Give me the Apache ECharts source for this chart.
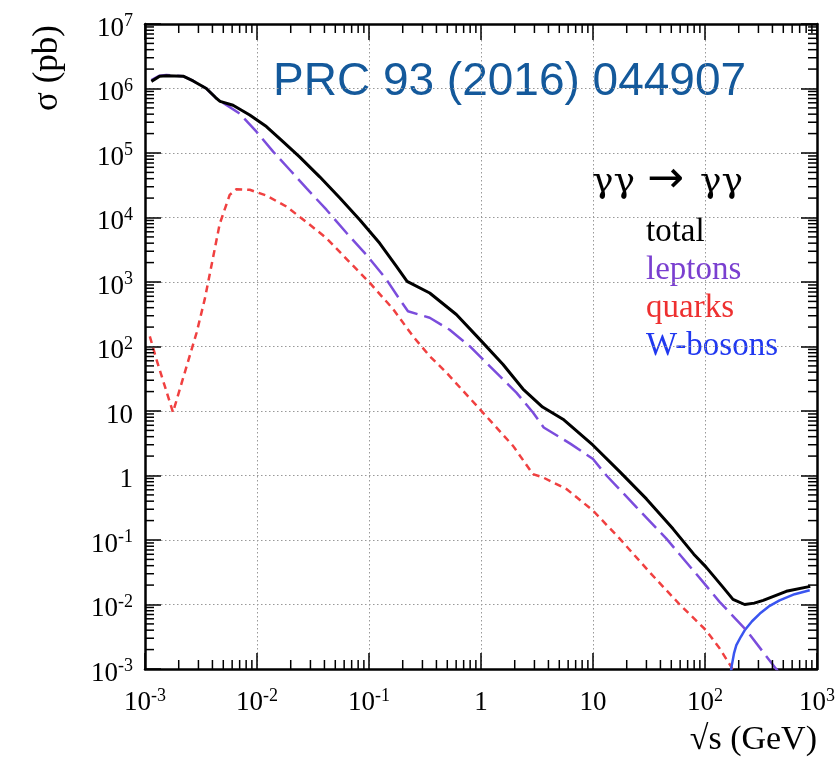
<!DOCTYPE html>
<html>
<head>
<meta charset="utf-8">
<script src="https://cdn.jsdelivr.net/npm/echarts@6/dist/echarts.min.js"></script>
<style>
  html, body { margin: 0; padding: 0; background: #fff; }
  #chart { width: 838px; height: 762px; }
</style>
</head>
<body>
<div id="chart"></div>
<script>
// gamma gamma -> gamma gamma cross sections vs sqrt(s), in pb, per contribution
const totalEnergy = [0.00114, 0.00135, 0.00155, 0.00219, 0.00269, 0.00353, 0.00427, 0.00468, 0.00611, 0.00861,
  0.01213, 0.01706, 0.02399, 0.03631, 0.05495, 0.0826, 0.1247, 0.1758, 0.2188, 0.3483, 0.6026, 0.975, 1.574,
  2.371, 3.548, 5.395, 10, 17.3, 30.0, 51.8, 79.4, 102.3, 144.5, 177.8, 226, 275, 331, 532, 871];
const totalSigma = [1.29e6, 1.55e6, 1.58e6, 1.55e6, 1.31e6, 1.0e6, 7.24e5, 6.31e5, 5.5e5, 3.89e5,
  2.57e5, 1.5e5, 8.71e4, 4.27e4, 2.0e4, 9230, 3980, 1740, 1020, 676, 313, 129, 52.5,
  21.9, 11.5, 7.46, 2.95, 1.15, 0.434, 0.149, 0.0603, 0.038, 0.0186, 0.012, 0.0100, 0.0105, 0.0116, 0.016, 0.0191];

const leptonEnergy = [0.00114, 0.00135, 0.00155, 0.00219, 0.00269, 0.00353, 0.00435, 0.00701, 0.00989, 0.01393,
  0.01959, 0.02761, 0.04169, 0.0631, 0.0948, 0.1429, 0.1879, 0.2228, 0.3483, 0.5248, 0.7925, 1.279, 2.07,
  2.911, 3.631, 6.31, 10, 13.18, 24.38, 45.19, 95.9, 134.9, 234.4, 416.9, 457];
const leptonSigma = [1.35e6, 1.58e6, 1.62e6, 1.55e6, 1.31e6, 1.0e6, 7.0e5, 4.07e5, 2.14e5, 1.05e5,
  5.5e4, 2.85e4, 1.32e4, 5750, 2630, 1100, 537, 352, 279, 182, 101, 44.2, 19.3,
  9.48, 5.56, 3.09, 1.8, 1.0, 0.324, 0.105, 0.0224, 0.011, 0.00398, 0.00108, 0.00089];

const quarkEnergy = [0.001104, 0.001265, 0.0015, 0.001778, 0.002265, 0.002884, 0.003412, 0.003656, 0.004645,
  0.005702, 0.006546, 0.00861, 0.01213, 0.01828, 0.02761, 0.04169, 0.06761, 0.1014, 0.1641, 0.2472, 0.3483,
  0.4909, 0.975, 1.932, 2.911, 3.581, 5.794, 10, 17.3, 32.06, 59.43, 102.3, 134.9, 172.2, 182];
const quarkSigma = [144, 63.1, 24.5, 9.55, 39.4, 162, 537, 977, 7940,
  2.24e4, 2.75e4, 2.69e4, 2.19e4, 1.48e4, 8510, 4790, 2000, 977, 380, 144, 70.8,
  39.4, 10.7, 2.88, 1.05, 0.933, 0.617, 0.286, 0.105, 0.0316, 0.01, 0.00398, 0.00209, 0.00107, 0.00089];

const wEnergy = [169, 172, 182, 190.5, 208.9, 226, 263, 309, 371.5, 463.4, 631, 861];
const wSigma = [0.00079, 0.00105, 0.00178, 0.00234, 0.00316, 0.00398, 0.0055, 0.00724, 0.00933, 0.0116, 0.01445, 0.0166];

// axis decades and their labels
const xDecades = [-3, -2, -1, 0, 1, 2, 3];
const xTickLabels = ['10^-3', '10^-2', '10^-1', '1', '10', '10^2', '10^3'];
const yDecades = [-3, -2, -1, 0, 1, 2, 3, 4, 5, 6, 7];
const yTickLabels = ['10^-3', '10^-2', '10^-1', '1', '10', '10^2', '10^3', '10^4', '10^5', '10^6', '10^7'];

// the y upper bound sits a hair under 1e7 so the log scale keeps one tick per decade
const X_MIN = 1e-3, X_MAX = 1e3, Y_MIN = 1e-3, Y_MAX = 0.99999e7;
const SERIF = "'Liberation Serif', 'Times New Roman', serif";

function toRich(label) {
  const parts = label.split('^');
  return parts.length === 1 ? '{b|' + parts[0] + '}' : '{b|' + parts[0] + '}{s|' + parts[1] + '}';
}
function decadeLabel(decades, labels) {
  return function (v) {
    const e = Math.round(Math.log10(v));
    const i = decades.indexOf(e);
    return i < 0 ? '' : toRich(labels[i]);
  };
}
const richStyle = {
  b: { fontFamily: SERIF, fontSize: 27, lineHeight: 32, color: '#000' },
  s: { fontFamily: SERIF, fontSize: 18, lineHeight: 18, color: '#000', verticalAlign: 'top' }
};

// log-spaced minor ticks (2..9 per decade)
function minorValues(lo, hi) {
  const out = [];
  for (let e = lo; e < hi; e++) for (let k = 2; k <= 9; k++) out.push(k * Math.pow(10, e));
  return out;
}
const xMinor = minorValues(-3, 3);
const yMinor = minorValues(-3, 7);

function minorTickSeries(values, isX) {
  const L = 9;
  return {
    type: 'custom', coordinateSystem: 'cartesian2d', silent: true, z: 6,
    xAxisIndex: 0, yAxisIndex: 0,
    data: values.map(v => isX ? [v, 1] : [1, v]),
    renderItem: function (params, api) {
      const v = api.value(isX ? 0 : 1);
      const a = api.coord(isX ? [v, Y_MIN] : [X_MIN, v]);
      const b = api.coord(isX ? [v, Y_MAX] : [X_MAX, v]);
      const st = { stroke: '#000', lineWidth: 1.5 };
      const s1 = isX ? { x1: a[0], y1: a[1], x2: a[0], y2: a[1] - L } : { x1: a[0], y1: a[1], x2: a[0] + L, y2: a[1] };
      const s2 = isX ? { x1: b[0], y1: b[1], x2: b[0], y2: b[1] + L } : { x1: b[0], y1: b[1], x2: b[0] - L, y2: b[1] };
      return { type: 'group', children: [
        { type: 'line', shape: s1, style: st },
        { type: 'line', shape: s2, style: st }
      ] };
    }
  };
}

function pairs(xs, ys) { return xs.map((x, i) => [x, ys[i]]); }

const frameLine = { show: true, onZero: false, lineStyle: { color: '#000', width: 2.5 } };
const majorTick = { show: true, inside: true, length: 16, lineStyle: { color: '#000', width: 1.5 } };
const gridDots = { show: true, lineStyle: { color: '#999', width: 1, type: [1.5, 2.5] } };

const chart = echarts.init(document.getElementById('chart'), null, { renderer: 'canvas' });
chart.setOption({
  animation: false,
  backgroundColor: '#fff',
  grid: { left: 145, top: 24, width: 672, height: 645, containLabel: false },
  xAxis: [
    { type: 'log', logBase: 10, min: X_MIN, max: X_MAX, splitNumber: 6, position: 'bottom',
      axisLine: frameLine, axisTick: majorTick, splitLine: gridDots, minorTick: { show: false },
      axisLabel: { formatter: decadeLabel(xDecades, xTickLabels), rich: richStyle, margin: 18 } },
    { type: 'log', logBase: 10, min: X_MIN, max: X_MAX, splitNumber: 6, position: 'top',
      axisLine: frameLine, axisTick: majorTick, splitLine: { show: false }, axisLabel: { show: false } }
  ],
  yAxis: [
    { type: 'log', logBase: 10, min: Y_MIN, max: Y_MAX, splitNumber: 10, position: 'left',
      axisLine: frameLine, axisTick: majorTick, splitLine: gridDots,
      axisLabel: { formatter: decadeLabel(yDecades, yTickLabels), rich: richStyle, margin: 12, padding: [9, 0, 0, 0] } },
    { type: 'log', logBase: 10, min: Y_MIN, max: Y_MAX, splitNumber: 10, position: 'right',
      axisLine: frameLine, axisTick: majorTick, splitLine: { show: false }, axisLabel: { show: false } }
  ],
  series: [
    minorTickSeries(xMinor, true),
    minorTickSeries(yMinor, false),
    { name: 'quarks', type: 'line', data: pairs(quarkEnergy, quarkSigma), symbol: 'none', z: 3,
      lineStyle: { color: '#f04040', width: 2.5, type: [7, 5] } },
    { name: 'W-bosons', type: 'line', data: pairs(wEnergy, wSigma), symbol: 'none', z: 3,
      lineStyle: { color: '#3a55f0', width: 2.5 } },
    { name: 'leptons', type: 'line', data: pairs(leptonEnergy, leptonSigma), symbol: 'none', z: 4,
      lineStyle: { color: '#7b4ddc', width: 2.5, type: [20, 7] } },
    { name: 'total', type: 'line', data: pairs(totalEnergy, totalSigma), symbol: 'none', z: 5,
      lineStyle: { color: '#000', width: 3 } }
  ],
  graphic: [
    { type: 'text', x: 48, y: 68, rotation: Math.PI / 2,
      style: { text: 'σ (pb)', font: '35px ' + SERIF, fill: '#000', align: 'center', verticalAlign: 'middle' } },
    { type: 'text', x: 817, y: 740,
      style: { text: '√s (GeV)', font: '34px ' + SERIF, fill: '#000', align: 'right', verticalAlign: 'middle' } },
    { type: 'text', x: 273, y: 82,
      style: { text: 'PRC 93 (2016) 044907', font: "46px 'Liberation Sans', Arial, sans-serif", fill: '#14599b', align: 'left', verticalAlign: 'middle' } },
    { type: 'text', x: 592, y: 183,
      style: { text: 'γγ', font: "36px 'DejaVu Serif', serif", fill: '#000', align: 'left', verticalAlign: 'middle' } },
    { type: 'text', x: 647, y: 181,
      style: { text: '→', font: "44px 'DejaVu Sans', sans-serif", fill: '#000', align: 'left', verticalAlign: 'middle' } },
    { type: 'text', x: 700, y: 183,
      style: { text: 'γγ', font: "36px 'DejaVu Serif', serif", fill: '#000', align: 'left', verticalAlign: 'middle' } },
    { type: 'text', x: 646, y: 232,
      style: { text: 'total', font: '33px ' + SERIF, fill: '#000', align: 'left', verticalAlign: 'middle' } },
    { type: 'text', x: 646, y: 270,
      style: { text: 'leptons', font: '33px ' + SERIF, fill: '#7a3fd0', align: 'left', verticalAlign: 'middle' } },
    { type: 'text', x: 646, y: 308,
      style: { text: 'quarks', font: '33px ' + SERIF, fill: '#ee3030', align: 'left', verticalAlign: 'middle' } },
    { type: 'text', x: 646, y: 346,
      style: { text: 'W-bosons', font: '33px ' + SERIF, fill: '#2038f0', align: 'left', verticalAlign: 'middle' } }
  ]
});
</script>
</body>
</html>
